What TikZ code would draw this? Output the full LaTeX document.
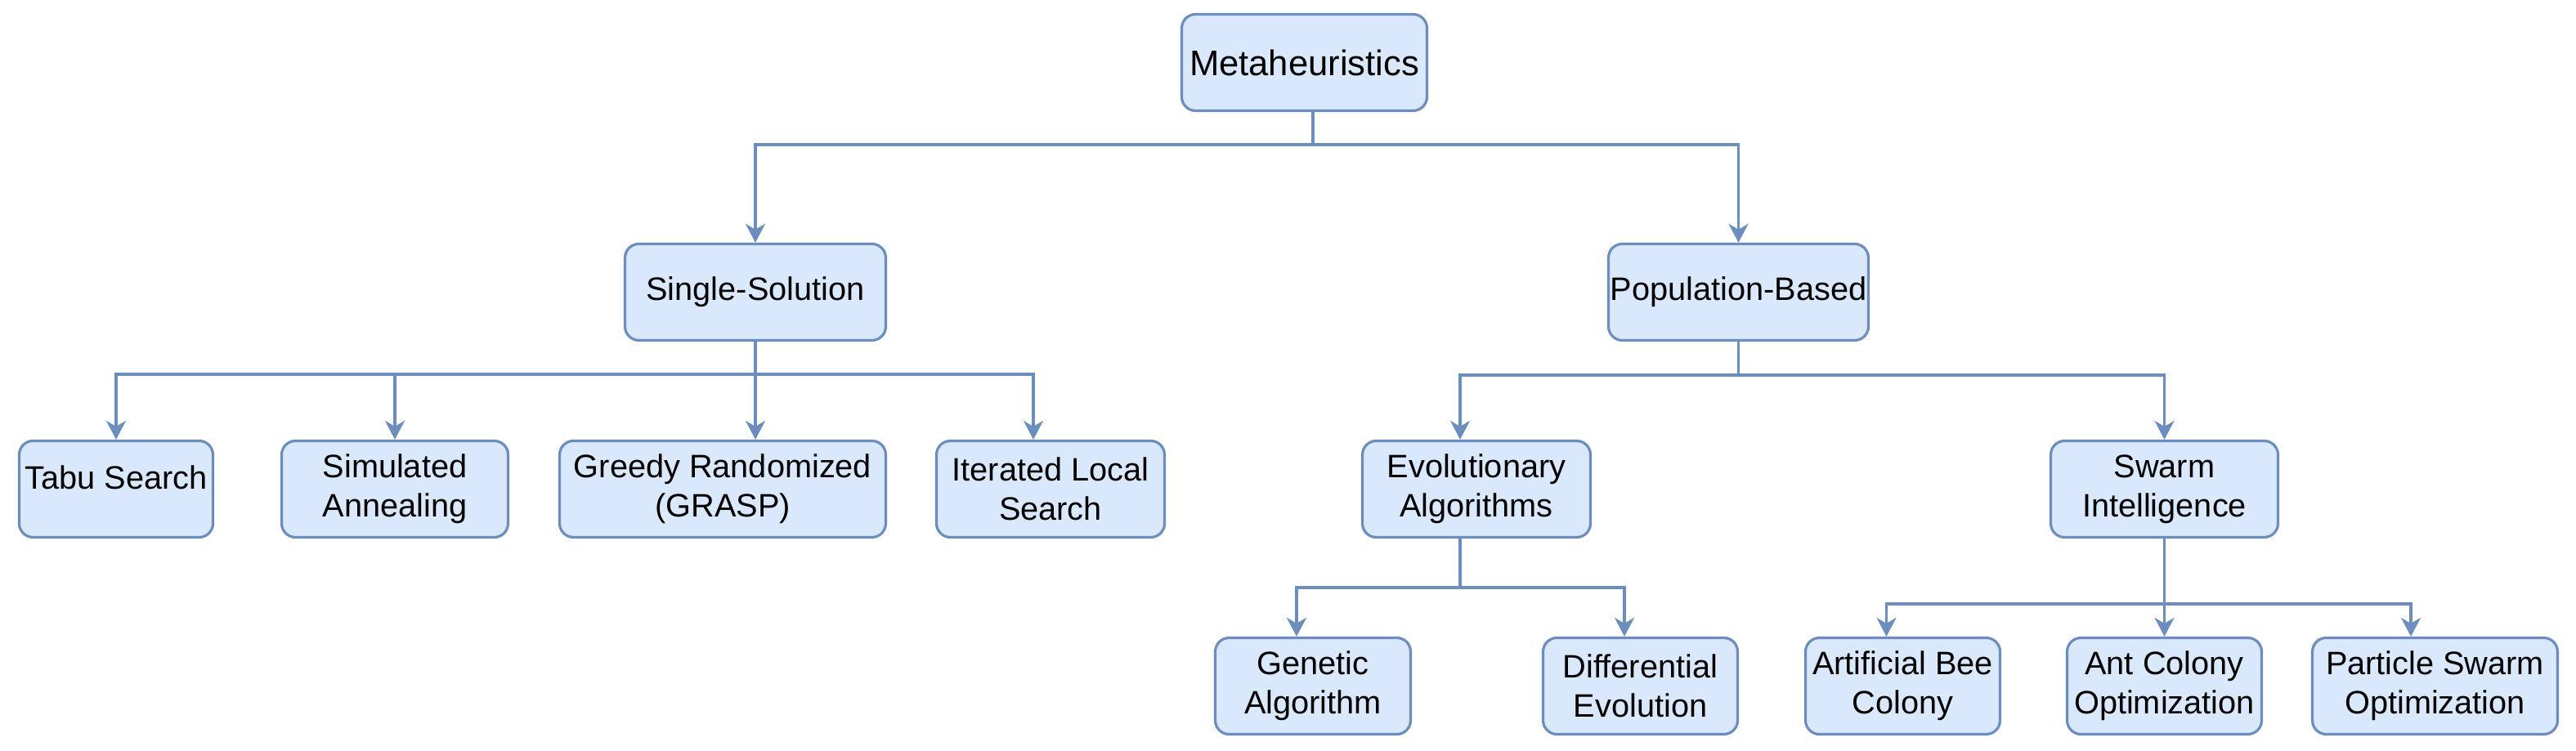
\documentclass[tikz,border=0pt]{standalone}
\usepackage{fontspec}
\setmainfont{Liberation Sans}
\usetikzlibrary{arrows.meta}
\definecolor{boxfill}{HTML}{DAE8FC}
\definecolor{boxline}{HTML}{6C8EBF}

\begin{document}
\begin{tikzpicture}[y=-1cm,
	box/.style={draw=boxline,fill=boxfill,line width=0.9pt,rounded corners=0.17cm,minimum height=1.18cm,align=center,inner sep=0pt,font=\fontsize{11.3}{13.6}\selectfont},
	edge/.style={draw=boxline,line width=0.9pt,-{Stealth[length=0.23cm,width=0.24cm,inset=0.07cm]}}]
	\useasboundingbox (0,0) rectangle (31.51,9.19);
	% top and first split
	\node[box,minimum width=3.0cm,font=\fontsize{12.4}{14.9}\selectfont] (meta) at (15.955,0.765) {Metaheuristics};
	\node[box,minimum width=3.19cm] (single) at (9.24,3.575) {Single-Solution};
	\node[box,minimum width=3.18cm] (popul) at (21.265,3.575) {Population-Based};
	% second row
	\node[box,minimum width=2.37cm] (tabu) at (1.42,5.985) {\smash{Tabu Search}};
	\node[box,minimum width=2.77cm] (anneal) at (4.83,5.985) {Simulated\\Annealing};
	\node[box,minimum width=3.99cm] (grasp) at (8.84,5.985) {Greedy Randomized\\(GRASP)};
	\node[box,minimum width=2.79cm] (ils) at (12.85,5.985) {Iterated Local\\Search};
	\node[box,minimum width=2.79cm] (evol) at (18.06,5.985) {Evolutionary\\Algorithms};
	\node[box,minimum width=2.78cm] (swarm) at (26.475,5.985) {Swarm\\Intelligence};
	% third row
	\node[box,minimum width=2.39cm] (genetic) at (16.06,8.395) {Genetic\\Algorithm};
	\node[box,minimum width=2.38cm] (diffev) at (20.065,8.395) {Differential\\Evolution};
	\node[box,minimum width=2.38cm] (abc) at (23.275,8.395) {Artificial Bee\\Colony};
	\node[box,minimum width=2.38cm] (aco) at (26.475,8.395) {Ant Colony\\Optimization};
	\node[box,minimum width=3.0cm] (pso) at (29.785,8.395) {Particle Swarm\\Optimization};

	\draw[edge] ([xshift=1.05mm]meta.south) -- ++(0,0.4) -| (single.north);
	\draw[edge] ([xshift=1.05mm]meta.south) -- ++(0,0.4) -| (popul.north);
	\foreach \n in {tabu,anneal}
		\draw[edge] (single.south) -- ++(0,0.4) -| (\n.north);
	\draw[edge] (single.south) -- (single.south |- grasp.north);
	\draw[edge] (single.south) -- ++(0,0.4) -| ([xshift=-2.1mm]ils.north);
	\draw[edge] (popul.south) -- ++(0,0.41) -| ([xshift=-2mm]evol.north);
	\draw[edge] (popul.south) -- ++(0,0.41) -| (swarm.north);
	\draw[edge] ([xshift=-2mm]evol.south) -- ++(0,0.6) -| ([xshift=-2mm]genetic.north);
	\draw[edge] ([xshift=-2mm]evol.south) -- ++(0,0.6) -| ([xshift=-1.95mm]diffev.north);
	\draw[edge] (swarm.south) -- ++(0,0.8) -| ([xshift=-2mm]abc.north);
	\draw[edge] (swarm.south) -- (aco.north);
	\draw[edge] (swarm.south) -- ++(0,0.8) -| ([xshift=-2.95mm]pso.north);
\end{tikzpicture}
\end{document}
